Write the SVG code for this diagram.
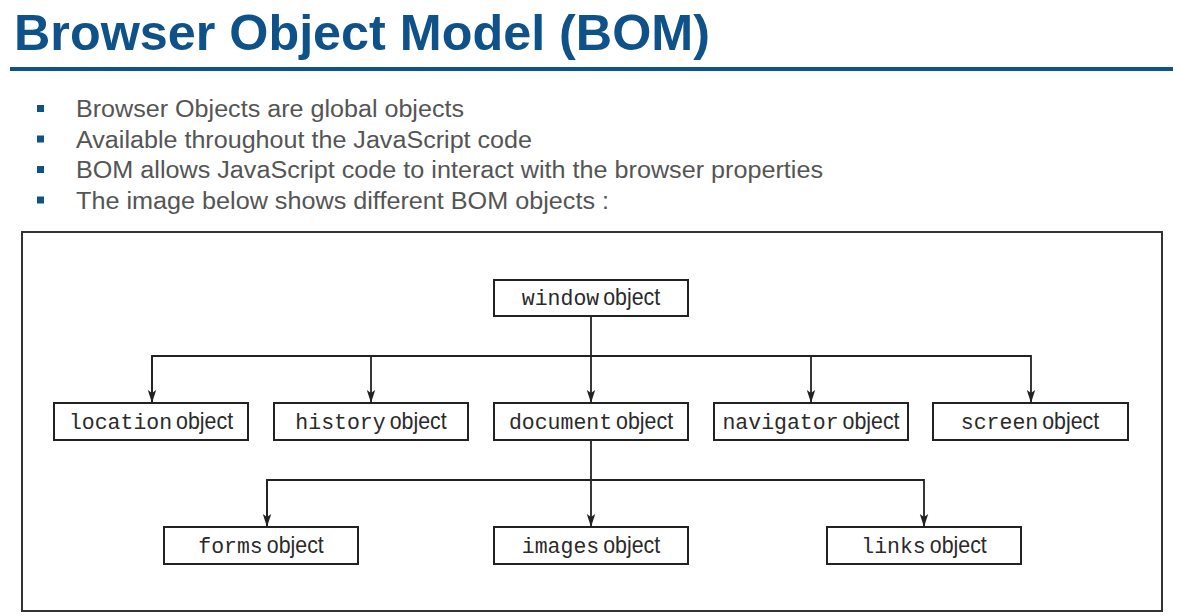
<svg xmlns="http://www.w3.org/2000/svg" width="1180" height="616" viewBox="0 0 1180 616">
<style>
.title{font-family:"Liberation Sans",Arial,sans-serif;font-weight:bold;font-size:50px;fill:#0f5189}
.bul{fill:#0f5189}
.bt{font-family:"Liberation Sans",Arial,sans-serif;font-size:23px;fill:#555555}
.box{fill:#ffffff;stroke:#222222;stroke-width:2}
.lbl{text-anchor:middle;fill:#2a2a2a}
.m{font-family:"Liberation Mono","Courier New",monospace;font-size:21.5px}
.o{font-family:"Liberation Sans",Arial,sans-serif;font-size:24px}
.c{fill:none;stroke:#222222;stroke-width:1.8}
</style>
<defs>
<marker id="ah" markerUnits="userSpaceOnUse" markerWidth="14" markerHeight="10" refX="13" refY="5" orient="auto">
<path d="M0,0.8 L13,5 L0,9.2 L3,5 z" fill="#222222"/>
</marker>
</defs>
<rect width="1180" height="616" fill="#ffffff"/>
<text class="title" x="14" y="50" textLength="696" lengthAdjust="spacingAndGlyphs">Browser Object Model (BOM)</text>
<rect x="10" y="67" width="1163" height="4" fill="#0f5189"/>
<g id="bullets">
<rect class="bul" x="37" y="105" width="7" height="7"/>
<rect class="bul" x="37" y="135.5" width="7" height="7"/>
<rect class="bul" x="37" y="166" width="7" height="7"/>
<rect class="bul" x="37" y="196.5" width="7" height="7"/>
<text class="bt" x="76" y="117" textLength="388" lengthAdjust="spacingAndGlyphs">Browser Objects are global objects</text>
<text class="bt" x="76" y="147.5" textLength="456" lengthAdjust="spacingAndGlyphs">Available throughout the JavaScript code</text>
<text class="bt" x="76" y="178" textLength="747" lengthAdjust="spacingAndGlyphs">BOM allows JavaScript code to interact with the browser properties</text>
<text class="bt" x="76" y="208.5" textLength="533" lengthAdjust="spacingAndGlyphs">The image below shows different BOM objects :</text>
</g>
<rect x="22" y="232" width="1140" height="379" fill="none" stroke="#333333" stroke-width="2"/>
<g id="connectors">
<line class="c" x1="591" y1="316" x2="591" y2="403" marker-end="url(#ah)"/>
<polyline class="c" points="152,403 152,356 1031,356 1031,403" marker-end="url(#ah)"/>
<path class="c" d="M152,356 L152,403" marker-end="url(#ah)"/>
<path class="c" d="M371,356 L371,403" marker-end="url(#ah)"/>
<path class="c" d="M811,356 L811,403" marker-end="url(#ah)"/>
<line class="c" x1="591" y1="440" x2="591" y2="527" marker-end="url(#ah)"/>
<polyline class="c" points="267,527 267,480 924,480 924,527" marker-end="url(#ah)"/>
<path class="c" d="M267,480 L267,527" marker-end="url(#ah)"/>
</g>
<g id="window">
<rect class="box" x="494" y="280" width="194" height="36"/>
<text class="lbl" x="591" y="305"><tspan class="m">window</tspan><tspan class="o" dx="4" textLength="57" lengthAdjust="spacingAndGlyphs">object</tspan></text>
</g>
<g id="location">
<rect class="box" x="54" y="403" width="194" height="37"/>
<text class="lbl" x="151" y="429"><tspan class="m">location</tspan><tspan class="o" dx="4" textLength="57" lengthAdjust="spacingAndGlyphs">object</tspan></text>
</g>
<g id="history">
<rect class="box" x="274" y="403" width="194" height="37"/>
<text class="lbl" x="371" y="429"><tspan class="m">history</tspan><tspan class="o" dx="4" textLength="57" lengthAdjust="spacingAndGlyphs">object</tspan></text>
</g>
<g id="document">
<rect class="box" x="494" y="403" width="194" height="37"/>
<text class="lbl" x="591" y="429"><tspan class="m">document</tspan><tspan class="o" dx="4" textLength="57" lengthAdjust="spacingAndGlyphs">object</tspan></text>
</g>
<g id="navigator">
<rect class="box" x="714" y="403" width="194" height="37"/>
<text class="lbl" x="811" y="429"><tspan class="m">navigator</tspan><tspan class="o" dx="4" textLength="57" lengthAdjust="spacingAndGlyphs">object</tspan></text>
</g>
<g id="screen">
<rect class="box" x="933" y="403" width="195" height="37"/>
<text class="lbl" x="1030" y="429"><tspan class="m">screen</tspan><tspan class="o" dx="4" textLength="57" lengthAdjust="spacingAndGlyphs">object</tspan></text>
</g>
<g id="forms">
<rect class="box" x="164" y="527" width="194" height="37"/>
<text class="lbl" x="261" y="553"><tspan class="m">forms</tspan><tspan class="o" dx="4" textLength="57" lengthAdjust="spacingAndGlyphs">object</tspan></text>
</g>
<g id="images">
<rect class="box" x="494" y="527" width="194" height="37"/>
<text class="lbl" x="591" y="553"><tspan class="m">images</tspan><tspan class="o" dx="4" textLength="57" lengthAdjust="spacingAndGlyphs">object</tspan></text>
</g>
<g id="links">
<rect class="box" x="827" y="527" width="194" height="37"/>
<text class="lbl" x="924" y="553"><tspan class="m">links</tspan><tspan class="o" dx="4" textLength="57" lengthAdjust="spacingAndGlyphs">object</tspan></text>
</g>
</svg>
